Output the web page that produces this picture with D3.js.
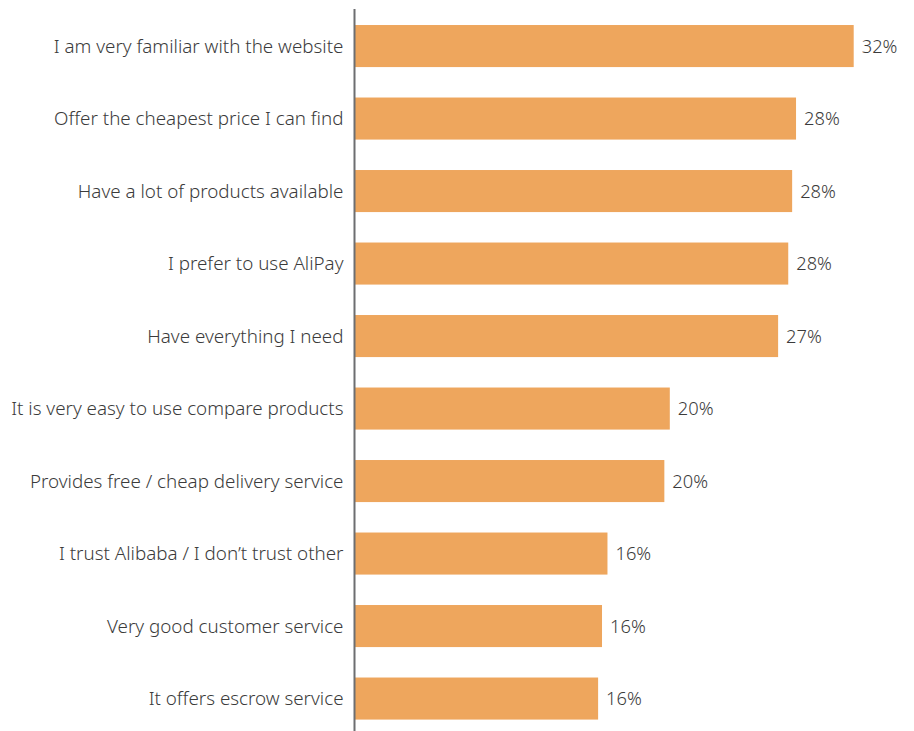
<!DOCTYPE html>
<html>
<head>
<meta charset="utf-8">
<script src="https://cdn.jsdelivr.net/npm/d3@7"></script>
<style>
  body { margin: 0; background: #fff; }
  text { font-family: "Noto Sans", sans-serif; font-weight: 300; fill: #3b3b3b; }
</style>
</head>
<body>
<svg id="chart" width="914" height="731"></svg>
<script>
// Reasons for shopping on the site, share of respondents (%)
const categories = [
  'I am very familiar with the website',
  'Offer the cheapest price I can find',
  'Have a lot of products available',
  'I prefer to use AliPay',
  'Have everything I need',
  'It is very easy to use compare products',
  'Provides free / cheap delivery service',
  'I trust Alibaba / I don\u2019t trust other',
  'Very good customer service',
  'It offers escrow service'
];
const values = [32.0, 28.3, 28.05, 27.8, 27.15, 20.2, 19.85, 16.2, 15.85, 15.6];
const valueLabels = ['32%', '28%', '28%', '28%', '27%', '20%', '20%', '16%', '16%', '16%'];

let svg = d3.select('#chart');
let axisX = 354.5;

let scaleX = d3.scaleLinear().domain([0, 32]).range([355, 853.7]);
let scaleY = d3.scaleBand()
    .domain(categories)
    .range([9.8, 734.8])
    .paddingInner(0.42)
    .paddingOuter(0.21);

let rows = categories.map((c, i) => ({cat: c, value: values[i], label: valueLabels[i]}));

// Bars
svg.selectAll('rect.bar').data(rows)
    .join('rect')
    .attr('class', 'bar')
    .attr('x', scaleX(0))
    .attr('y', d => scaleY(d.cat))
    .attr('width', d => scaleX(d.value) - scaleX(0))
    .attr('height', scaleY.bandwidth())
    .attr('fill', '#eea65d');

// Category labels
svg.selectAll('text.cat').data(rows)
    .join('text')
    .attr('class', 'cat')
    .attr('x', axisX - 11)
    .attr('y', d => scaleY(d.cat) + scaleY.bandwidth() / 2)
    .attr('dy', '0.36em')
    .attr('text-anchor', 'end')
    .attr('font-size', 18.8)
    .text(d => d.cat);

// Value labels
svg.selectAll('text.val').data(rows)
    .join('text')
    .attr('class', 'val')
    .attr('x', d => scaleX(d.value) + 8)
    .attr('y', d => scaleY(d.cat) + scaleY.bandwidth() / 2)
    .attr('dy', '0.36em')
    .attr('font-size', 18.3)
    .text(d => d.label);

// Vertical axis line
svg.append('line')
    .attr('x1', axisX).attr('x2', axisX)
    .attr('y1', 9).attr('y2', 731)
    .attr('stroke', '#6d6e71')
    .attr('stroke-width', 2);
</script>
</body>
</html>
